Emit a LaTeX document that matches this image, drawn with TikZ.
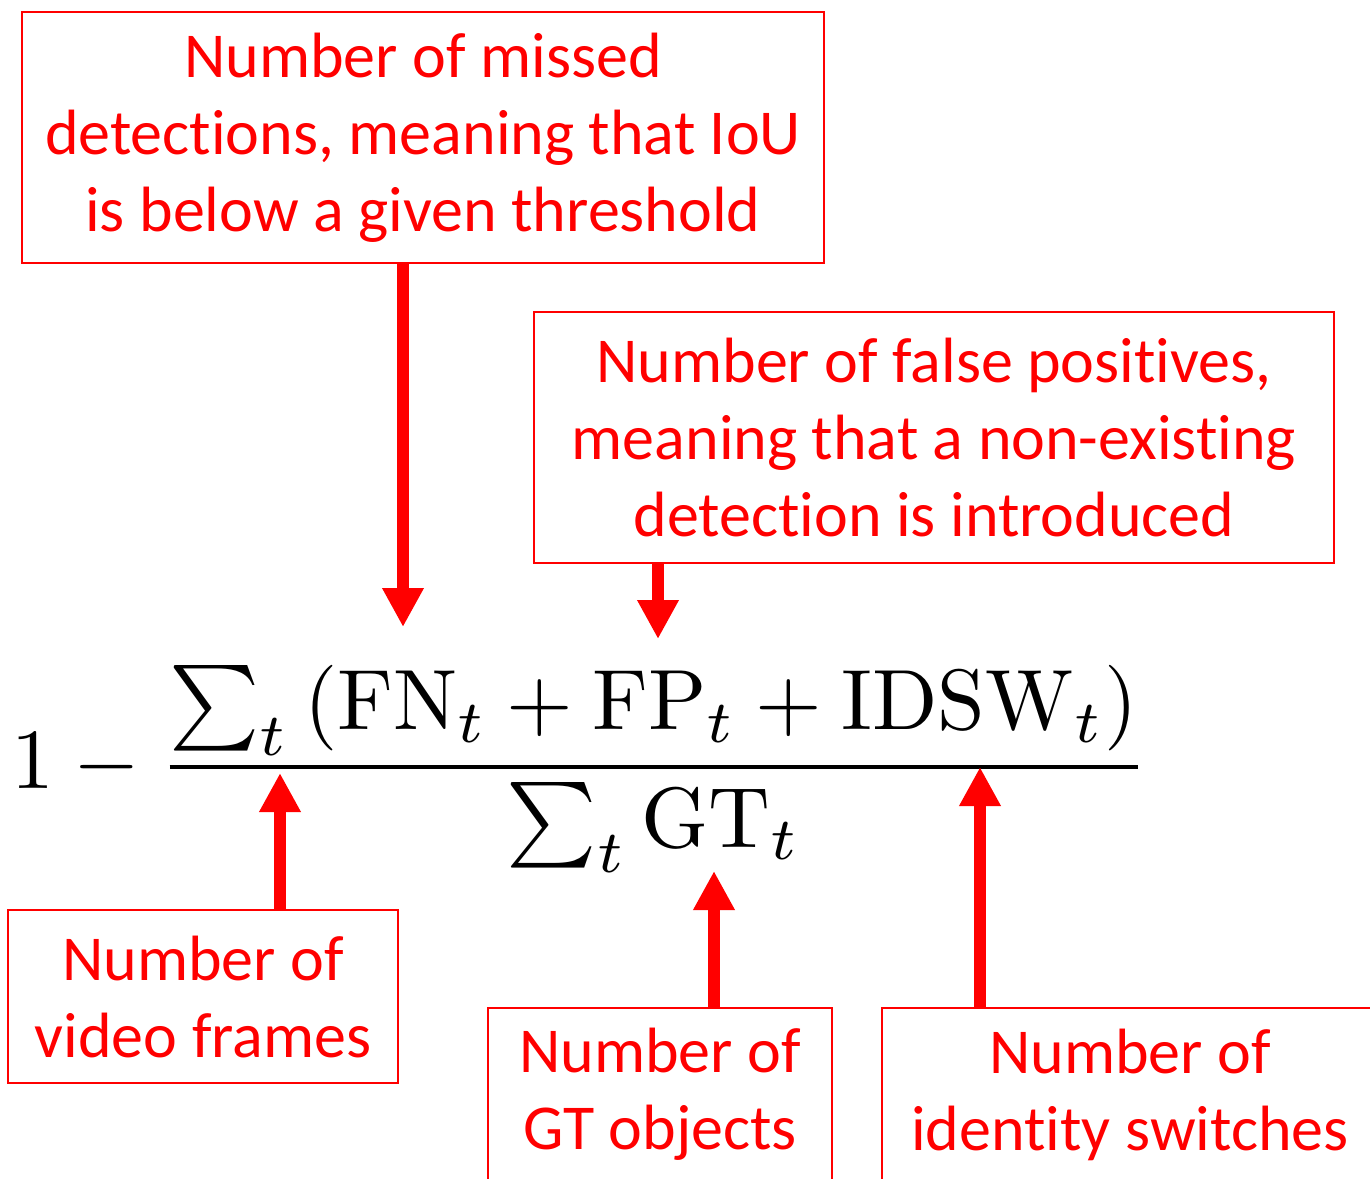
\documentclass[tikz,border=0pt]{standalone}
\usepackage[no-math]{fontspec}
\setmainfont{Carlito}[Ligatures=NoCommon]
\usetikzlibrary{arrows.meta}

\tikzset{
  note/.style={draw=red, line width=1pt, fill=white, text=red, align=center,
    inner sep=0pt, font=\fontsize{32}{38.5}\selectfont},
  pointer/.style={draw=red, line width=6.3pt,
    -{Triangle[width=19.5pt, length=19.5pt]}, red}
}

\begin{document}
\begin{tikzpicture}[x=0.5pt, y=-0.5pt]
  \useasboundingbox (0,0) rectangle (1370,1178);
  \clip (0,0) rectangle (1370,1178);

  % The MOTA formula
  \node[scale=4.28] (formula) at (580,769)
    {$\displaystyle 1-\frac{\sum_t\left(\mathrm{FN}_t+\mathrm{FP}_t+\mathrm{IDSW}_t\right)}{\sum_t\mathrm{GT}_t}$};

  % Explanations above the formula
  \node[note, minimum width=401pt, minimum height=125.5pt] (missed) at (423,137.5)
    {Number of missed\\detections, meaning that IoU\\is below a given threshold};
  \node[note, minimum width=400pt, minimum height=125.5pt] (falsepos) at (934,437.5)
    {Number of false positives,\\meaning that a non-existing\\detection is introduced};

  % Explanations below the formula
  \node[note, minimum width=195pt, minimum height=86.5pt] (frames) at (203,996.5)
    {Number of\\video frames};
  \node[note, minimum width=172pt, minimum height=86.5pt] (gtobj) at (660,1094.5)
    {Number of\\GT objects};
  \node[note, minimum width=248pt, minimum height=86.5pt] (idsw) at (1130,1094.5)
    {Number of\\identity switches};

  % Where the arrows point to
  \coordinate (fnTip) at (403,627);
  \coordinate (fpTip) at (658,639);
  \coordinate (sumTip) at (280,773);
  \coordinate (gtTip) at (714,871);
  \coordinate (idswTip) at (980,767);

  % Arrows
  \draw[pointer] (missed.south -| fnTip) -- (fnTip);
  \draw[pointer] (falsepos.south -| fpTip) -- (fpTip);
  \draw[pointer] (frames.north -| sumTip) -- (sumTip);
  \draw[pointer] (gtobj.north -| gtTip) -- (gtTip);
  \draw[pointer] (idsw.north -| idswTip) -- (idswTip);
\end{tikzpicture}
\end{document}
